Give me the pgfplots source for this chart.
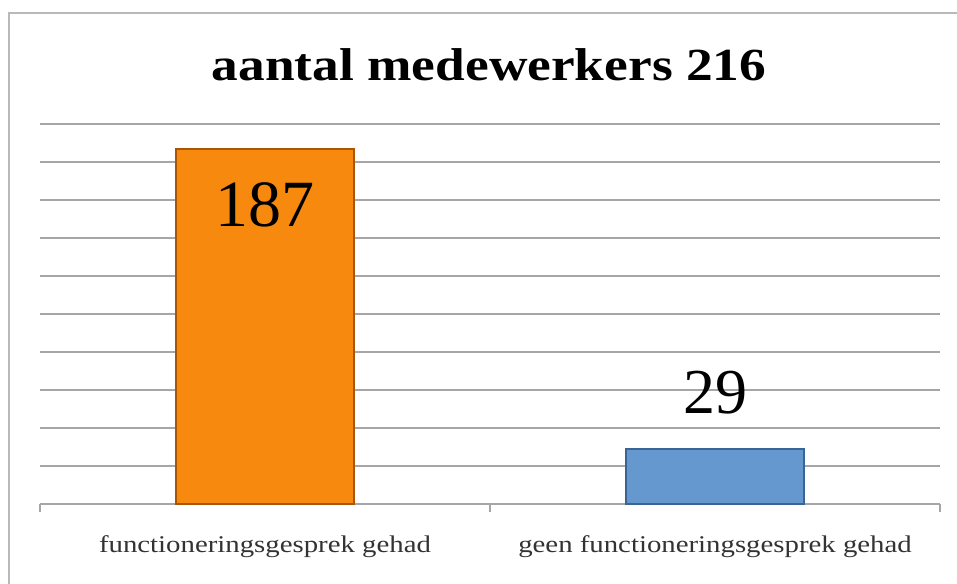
\documentclass[border=0pt]{standalone}
\usepackage{pgfplots}
\pgfplotsset{compat=1.18}
\usepackage{fontspec}
\setmainfont{Liberation Serif}
\definecolor{barorange}{HTML}{F7890F}
\definecolor{edgeorange}{HTML}{A85604}
\definecolor{barblue}{HTML}{6598CF}
\definecolor{edgeblue}{HTML}{3A6494}
\definecolor{gridgray}{HTML}{A6A6A6}
\begin{document}
\begin{tikzpicture}
\useasboundingbox (0,0) rectangle (957pt,583pt);
\fill[white] (0,0) rectangle (957pt,583pt);
\draw[gray!55, line width=2pt] (9pt,-20pt) -- (9pt,570pt) -- (980pt,570pt);
\node[font=\fontsize{46}{50}\selectfont\bfseries] at (489pt,518pt) {\scalebox{1.16}[1]{aantal medewerkers 216}};
\begin{axis}[
    at={(40pt,79pt)}, anchor=south west,
    scale only axis,
    width=900pt, height=380pt,
    xmin=0, xmax=2,
    ymin=0, ymax=200,
    ytick={0,20,...,200},
    yticklabels={},
    ymajorgrids,
    grid style={gridgray, line width=1.6pt},
    axis x line*=bottom,
    x axis line style={gridgray, line width=1.6pt, -},
    y axis line style={draw=none},
    ytick style={draw=none},
    xtick={0,1,2},
    xticklabels={},
    major tick length=8pt,
    xtick style={gridgray, line width=1.6pt},
    tick align=outside,
    extra x ticks={0.5,1.5},
    extra x tick labels={\scalebox{1.2}[1]{functioneringsgesprek gehad}, \scalebox{1.2}[1]{geen functioneringsgesprek gehad}},
    extra x tick style={major tick length=0pt, tick label style={font=\fontsize{24}{26}\selectfont, color=black!80, yshift=-28pt}},
    ybar, bar width=178pt, bar shift=0pt,
    clip=false,
]
\addplot[fill=barorange, draw=edgeorange, line width=2pt,
    nodes near coords, point meta=explicit symbolic,
    every node near coord/.append style={anchor=north, yshift=-30pt, font=\fontsize{66}{68}\selectfont, color=black}]
    coordinates {(0.5,187) [187]};
\addplot[fill=barblue, draw=edgeblue, line width=2pt,
    nodes near coords, point meta=explicit symbolic,
    every node near coord/.append style={anchor=south, yshift=30pt, font=\fontsize{64}{66}\selectfont, color=black}]
    coordinates {(1.5,29) [29]};
\end{axis}
\end{tikzpicture}
\end{document}
